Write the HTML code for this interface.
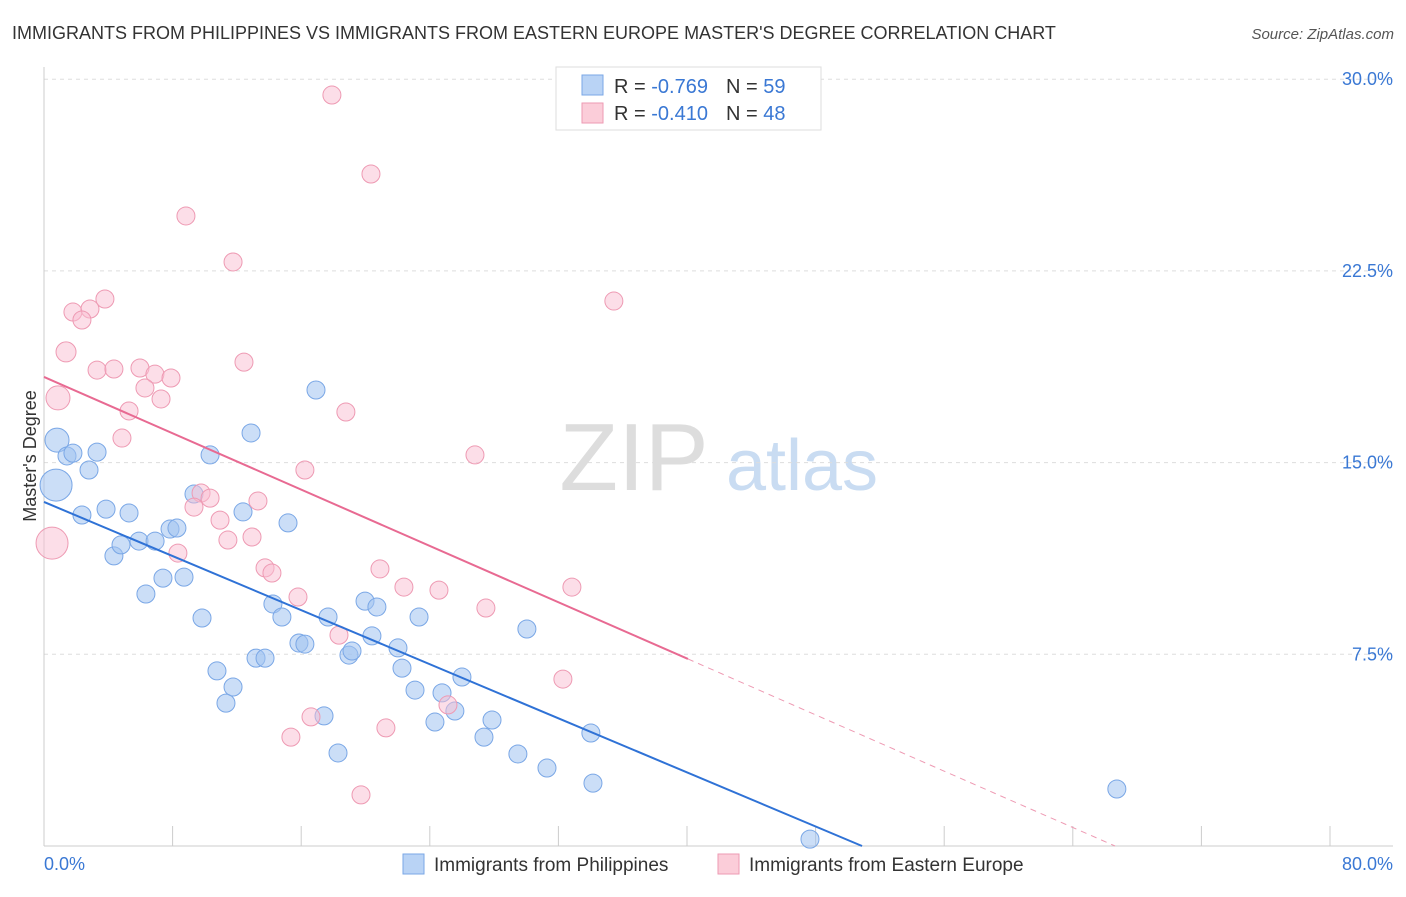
<!DOCTYPE html>
<html><head><meta charset="utf-8"><style>
body{margin:0;background:#fff;font-family:"Liberation Sans",sans-serif;}
svg text{font-family:"Liberation Sans",sans-serif;}
</style></head><body>
<svg id="chart" width="1406" height="892" viewBox="0 0 1406 892">
<text x="12" y="39" font-size="18" fill="#333">IMMIGRANTS FROM PHILIPPINES VS IMMIGRANTS FROM EASTERN EUROPE MASTER'S DEGREE CORRELATION CHART</text>
<text x="1394" y="39" font-size="15" fill="#555" font-style="italic" text-anchor="end">Source: ZipAtlas.com</text>
<g>
<text x="634" y="490" font-size="96" fill="#ddd" font-family="Liberation Serif,serif" text-anchor="middle">ZIP</text>
<text x="802" y="490" font-size="72" fill="#c9dcf2" text-anchor="middle">atlas</text>
</g>
<g id="grid"></g>
<g id="marks"></g>
<text x="36" y="456" font-size="18" fill="#333" text-anchor="middle" transform="rotate(-90 36 456)">Master's Degree</text>
<g>
<rect x="556" y="67" width="265" height="63" fill="#fff" stroke="#ddd"/>
<rect x="582" y="75" width="21" height="20" fill="#b9d3f5" stroke="#7aa7e6"/>
<text x="614" y="93" font-size="20" fill="#333">R = <tspan fill="#3a78d4">-0.769</tspan><tspan dx="18">N = </tspan><tspan fill="#3a78d4">59</tspan></text>
<rect x="582" y="103" width="21" height="20" fill="#fbcdd9" stroke="#ee9ab3"/>
<text x="614" y="120" font-size="20" fill="#333">R = <tspan fill="#3a78d4">-0.410</tspan><tspan dx="18">N = </tspan><tspan fill="#3a78d4">48</tspan></text>
</g>
<g>
<rect x="403" y="854" width="21" height="20" fill="#b9d3f5" stroke="#7aa7e6"/>
<text x="434" y="871" font-size="19" fill="#333">Immigrants from Philippines</text>
<rect x="718" y="854" width="21" height="20" fill="#fbcdd9" stroke="#ee9ab3"/>
<text x="749" y="871" font-size="19" fill="#333">Immigrants from Eastern Europe</text>
</g>
</svg>
<script>
const xTicks=[0,8,16,24,32,40,48,56,64,72,80];
const yTicks=[7.5,15,22.5,30];
const yTickLabels=["7.5%","15.0%","22.5%","30.0%"];
const blueX=[0.81,1.43,1.80,2.80,3.30,0.75,2.36,3.86,5.29,4.35,4.79,5.91,6.91,7.84,8.27,7.40,8.71,6.34,9.83,9.33,10.33,12.88,12.38,15.18,16.92,10.76,11.76,11.32,13.19,13.75,14.24,14.80,15.86,16.23,17.67,17.42,18.29,18.97,19.16,19.97,20.71,20.40,22.02,22.27,23.33,23.08,24.32,24.76,25.56,26.00,27.37,27.87,29.48,30.04,31.29,34.02,34.15,47.65,66.74];
const blueY=[15.88,15.26,15.37,14.71,15.41,14.12,12.95,13.18,13.03,11.35,11.78,11.93,11.93,12.40,12.44,10.48,10.52,9.86,8.92,13.77,15.30,16.16,13.07,12.64,17.84,6.85,6.22,5.59,7.35,7.35,9.47,8.96,7.94,7.90,8.96,5.09,3.64,7.47,7.63,9.58,9.35,8.22,7.75,6.96,8.96,6.10,4.85,5.99,5.28,6.61,4.26,4.93,3.60,8.49,3.05,4.42,2.46,0.27,2.23];
const blueR=[12,9,9,9,9,16,9,9,9,9,9,9,9,9,9,9,9,9,9,9,9,9,9,9,9,9,9,9,9,9,9,9,9,9,9,9,9,9,9,9,9,9,9,9,9,9,9,9,9,9,9,9,9,9,9,9,9,9,9];
const pinkX=[17.91,20.34,8.83,11.76,3.79,1.80,2.86,2.36,35.45,1.37,3.30,4.35,5.97,6.90,7.90,6.28,7.28,0.87,12.44,5.29,4.85,18.78,26.81,16.23,9.77,10.33,9.33,10.95,13.31,11.44,12.94,8.33,0.50,13.75,14.18,15.80,20.90,22.39,24.57,27.49,32.84,18.35,32.28,16.61,15.36,21.27,25.13,19.72];
const pinkY=[29.38,26.29,24.65,22.85,21.40,20.89,21.01,20.58,21.32,19.33,18.62,18.66,18.70,18.46,18.31,17.92,17.49,17.53,18.93,17.02,15.96,16.98,15.30,14.71,13.81,13.61,13.26,12.75,13.50,11.97,12.09,11.46,11.85,10.88,10.68,9.74,10.84,10.13,10.01,9.31,10.13,8.25,6.53,5.05,4.26,4.62,5.52,2.00];
const pinkR=[9,9,9,9,9,9,9,9,9,10,9,9,9,9,9,9,9,12,9,9,9,9,9,9,9,9,9,9,9,9,9,9,16,9,9,9,9,9,9,9,9,9,9,9,9,9,9,9];
const blueTrend=[13.46,-0.2645];
const pinkTrend=[18.35,-0.2754];
const pinkSolidEnd=40.06;

const X0=44,X1=1330,Y0=846;
const xs=v=>X0+(v/80)*(X1-X0);
const ys=v=>Y0-(v/7.5)*191.7;
const NS="http://www.w3.org/2000/svg";
function mk(tag,attrs,parent){const e=document.createElementNS(NS,tag);for(const k in attrs)e.setAttribute(k,attrs[k]);parent.appendChild(e);return e;}
const grid=document.getElementById('grid'),marks=document.getElementById('marks');
yTicks.forEach((t,i)=>{
 const l=mk('line',{x1:X0,x2:1393,y1:ys(t),y2:ys(t),stroke:'#ddd','stroke-dasharray':'4,4'},grid);
 
 
 const tx=mk('text',{x:1393,y:ys(t)+6,'font-size':18,fill:'#3a78d4','text-anchor':'end'},grid);
 tx.textContent=yTickLabels[i];
 
 
});
const ax=mk('line',{x1:X0,x2:X0,y1:67,y2:Y0,stroke:'#ccc'},grid);


const bx=mk('line',{x1:X0,x2:1393,y1:Y0,y2:Y0,stroke:'#ccc'},grid);


xTicks.forEach(t=>{
 const l=mk('line',{x1:xs(t),x2:xs(t),y1:826,y2:Y0,stroke:'#ccc'},grid);
 
 
});
const xl0=mk('text',{x:44,y:870,'font-size':18,fill:'#3a78d4'},grid);xl0.textContent='0.0%';


const xl1=mk('text',{x:1393,y:870,'font-size':18,fill:'#3a78d4','text-anchor':'end'},grid);xl1.textContent='80.0%';


blueX.forEach((v,i)=>{
 const c=mk('circle',{cx:xs(v),cy:ys(blueY[i]),r:blueR[i],fill:'rgba(160,195,240,0.55)',stroke:'#7aa7e6','stroke-width':1},marks);
 
 
});
pinkX.forEach((v,i)=>{
 const c=mk('circle',{cx:xs(v),cy:ys(pinkY[i]),r:pinkR[i],fill:'rgba(250,190,210,0.5)',stroke:'#ee9ab3','stroke-width':1},marks);
 
 
});
const bEnd=-blueTrend[0]/blueTrend[1];
const bl=mk('line',{x1:xs(0),y1:ys(blueTrend[0]),x2:xs(bEnd),y2:ys(0),stroke:'#2f72d6','stroke-width':2},marks);


const pf=x=>pinkTrend[0]+pinkTrend[1]*x;
const pl=mk('line',{x1:xs(0),y1:ys(pf(0)),x2:xs(pinkSolidEnd),y2:ys(pf(pinkSolidEnd)),stroke:'#e86a92','stroke-width':2},marks);


const pEnd=-pinkTrend[0]/pinkTrend[1];
const pd=mk('line',{x1:xs(pinkSolidEnd),y1:ys(pf(pinkSolidEnd)),x2:xs(pEnd),y2:ys(0),stroke:'#ee9ab3','stroke-width':1,'stroke-dasharray':'6,5'},marks);


</script>
</body></html>
